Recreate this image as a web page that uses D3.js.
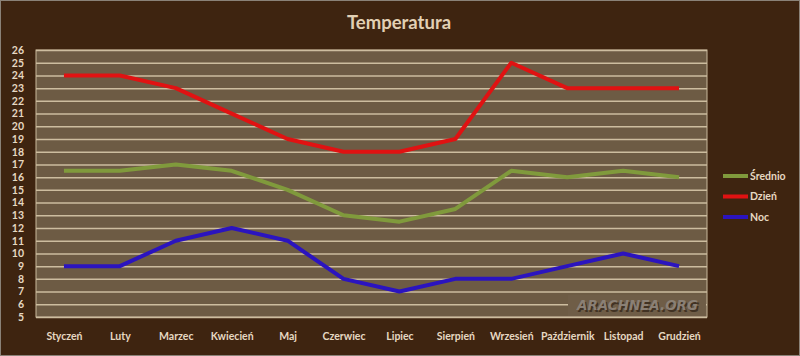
<!DOCTYPE html>
<html><head><meta charset="utf-8">
<script src="https://cdn.jsdelivr.net/npm/d3@7"></script>
<style>html,body{margin:0;padding:0;background:#3e2410;}svg{display:block;}</style>
</head><body>
<svg id="c" width="800" height="356"></svg>
<script>
const months = ["Styczeń","Luty","Marzec","Kwiecień","Maj","Czerwiec","Lipiec","Sierpień","Wrzesień","Październik","Listopad","Grudzień"];
const srednio = [16.5,16.5,17,16.5,15,13,12.5,13.5,16.5,16,16.5,16];
const dzien = [24,24,23,21,19,18,18,19,25,23,23,23];
const noc = [9,9,11,12,11,8,7,8,8,9,10,9];
const yTicks = d3.range(5,27);
const seriesNames = ["Średnio","Dzień","Noc"];

const series = [
  {name: seriesNames[0], values: srednio, color: "#809a3c"},
  {name: seriesNames[1], values: dzien, color: "#e01212"},
  {name: seriesNames[2], values: noc, color: "#2b14bf"}
];

const svg = d3.select("#c");
const W = 800, H = 356;
const m = {l:36, r:93, t:50, b:39};
const font = "Lato, 'Open Sans', sans-serif";

svg.append("rect").attr("x",0.5).attr("y",0.5).attr("width",W-1).attr("height",H-1)
  .attr("fill","#3e2410").attr("stroke","#8a8278").attr("stroke-width",1);

const x = d3.scalePoint().domain(months).range([m.l, W-m.r]).padding(0.5);
const y = d3.scaleLinear().domain([5,26]).range([H-m.b, m.t]);

svg.append("rect").attr("x",m.l).attr("y",m.t).attr("width",W-m.r-m.l).attr("height",H-m.b-m.t)
  .attr("fill","#6d5b44").attr("stroke","#c9b99c").attr("stroke-width",1);

// grid
const gy = svg.append("g").attr("transform",`translate(${m.l},0)`)
  .call(d3.axisLeft(y).tickValues(yTicks).tickSize(-(W-m.r-m.l)).tickPadding(12).tickFormat(d3.format("d")));
gy.select(".domain").remove();
gy.selectAll(".tick line").attr("stroke","#cdbd9f").attr("stroke-width",1.5);
gy.selectAll(".tick text").attr("fill","#e6d8c2").attr("font-family",font)
  .attr("font-size",10.5).attr("font-weight","bold");

const gx = svg.append("g").attr("transform",`translate(0,${H-m.b})`)
  .call(d3.axisBottom(x).tickSize(0).tickPadding(16));
gx.select(".domain").remove();
gx.selectAll(".tick text").attr("fill","#e6d8c2").attr("font-family",font)
  .attr("font-size",10.5).attr("font-weight","bold");

// watermark
const wm = svg.append("g");
wm.append("rect").attr("x",568).attr("y",295).attr("width",W-m.r-568-1).attr("height",H-m.b-295-1)
  .attr("fill","#6f5d47");
const wmText = (dx,dy,fill,op)=>wm.append("text").attr("x",577+dx).attr("y",310+dy)
  .attr("font-family","'DejaVu Sans', sans-serif").attr("font-style","italic").attr("font-weight","bold")
  .attr("font-size",14).attr("textLength",121).attr("lengthAdjust","spacingAndGlyphs")
  .attr("fill",fill).attr("opacity",op).text("ARACHNEA.ORG");
wmText(1.5,1.5,"#2e2114",0.7);
wmText(0,0,"#8d8379",0.95);

const line = d3.line().x((d,i)=>x(months[i])).y(d=>y(d));
series.forEach(s=>{
  svg.append("path").datum(s.values).attr("d",line).attr("fill","none")
    .attr("stroke",s.color).attr("stroke-width",4).attr("stroke-linejoin","round");
});

// title
svg.append("text").attr("x",399).attr("y",29).attr("text-anchor","middle")
  .attr("font-family",font).attr("font-weight","bold").attr("font-size",18.5)
  .attr("fill","#e2d0b4").text("Temperatura");

// legend
const lg = svg.append("g");
series.forEach((s,i)=>{
  const yy = 176 + i*20.5;
  lg.append("line").attr("x1",723).attr("x2",748).attr("y1",yy).attr("y2",yy)
    .attr("stroke",s.color).attr("stroke-width",4);
  lg.append("text").attr("x",750).attr("y",yy).attr("dy","0.35em")
    .attr("font-family",font).attr("font-weight","bold").attr("font-size",10.5)
    .attr("fill","#e6d8c2").text(s.name);
});
</script>
</body></html>
